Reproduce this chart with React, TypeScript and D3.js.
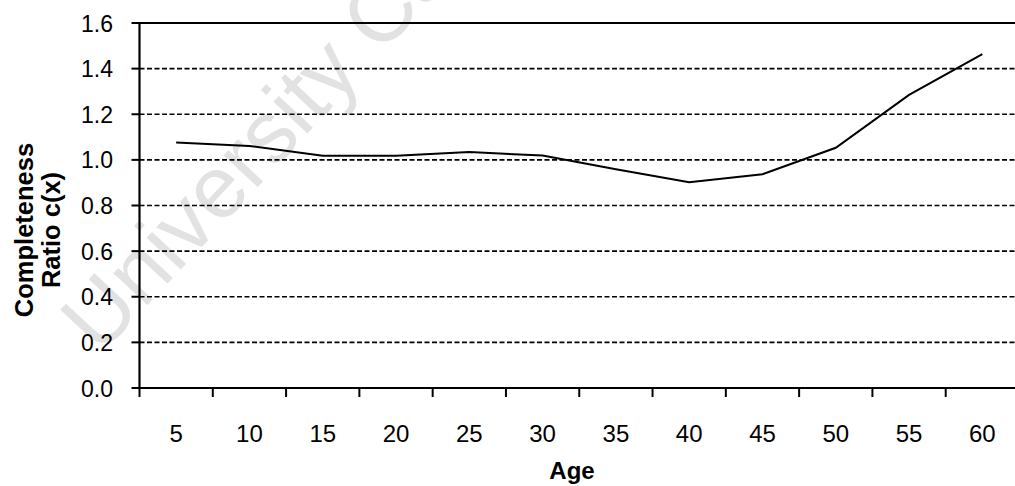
import React from "react";
import * as d3 from "d3";

const ages = ["5", "10", "15", "20", "25", "30", "35", "40", "45", "50", "55", "60"];
const ratios = [1.076, 1.061, 1.018, 1.018, 1.034, 1.019, 0.959, 0.902, 0.937, 1.053, 1.285, 1.464];
const yTicks = [0, 0.2, 0.4, 0.6, 0.8, 1.0, 1.2, 1.4, 1.6];
const yTitleLines = ["Completeness", "Ratio c(x)"];
const xTitle = "Age";
const watermarkParts = ["University", "Cape Town"];

const W = 1015;
const H = 486;
const FONT = "Arial, 'Liberation Sans', sans-serif";

export default function App() {
  const x = d3.scaleBand<string>().domain(ages).range([139.5, 1019]);
  const y = d3.scaleLinear().domain([0, 1.6]).range([388, 23]);
  const line = d3
    .line<number>()
    .x((_, i) => (x(ages[i]) as number) + x.bandwidth() / 2)
    .y((d) => y(d));
  const x0 = 139.5;
  const tickEdges = ages.map((a) => x(a) as number);

  return (
    <svg
      width={W}
      height={H}
      style={{ position: "absolute", left: 0, top: 0, background: "#fff" }}
      fontFamily={FONT}
    >
      <rect x={0} y={0} width={W} height={H} fill="#fff" />
      <text
        x={100}
        y={356}
        fontSize={88}
        fill="#e2e2e2"
        transform="rotate(-47 100 356)"
      >
        {watermarkParts[0]} {watermarkParts[1]}
      </text>
      {yTicks.map((t) =>
        t === 0 ? null : (
          <line
            key={"g" + t}
            x1={x0}
            x2={W}
            y1={y(t)}
            y2={y(t)}
            stroke="#000"
            strokeWidth={t === 1.6 ? 2.2 : 1.7}
            strokeDasharray={t === 1.6 ? undefined : "5,2.5"}
          />
        )
      )}
      {/* y axis */}
      <line x1={x0} x2={x0} y1={y(1.6) - 1} y2={y(0) + 1} stroke="#000" strokeWidth={2.2} />
      {yTicks.map((t) => (
        <g key={"yt" + t}>
          <line x1={x0 - 8} x2={x0} y1={y(t)} y2={y(t)} stroke="#000" strokeWidth={2} />
          <text x={113} y={y(t) + 8.5} fontSize={23} textAnchor="end" fill="#000">
            {t.toFixed(1)}
          </text>
        </g>
      ))}
      {/* x axis */}
      <line x1={x0} x2={W} y1={y(0)} y2={y(0)} stroke="#000" strokeWidth={2.2} />
      {tickEdges.map((tx, i) => (
        <line key={"xt" + i} x1={tx} x2={tx} y1={y(0)} y2={y(0) + 9} stroke="#000" strokeWidth={2} />
      ))}
      {ages.map((a) => (
        <text
          key={"xl" + a}
          x={(x(a) as number) + x.bandwidth() / 2}
          y={442}
          fontSize={24}
          textAnchor="middle"
          fill="#000"
        >
          {a}
        </text>
      ))}
      <path d={line(ratios) as string} fill="none" stroke="#000" strokeWidth={2} />
      <text x={572} y={479} fontSize={24} fontWeight="bold" textAnchor="middle" fill="#000">
        {xTitle}
      </text>
      <text
        transform="translate(0,230) rotate(-90)"
        fontSize={25.5}
        fontWeight="bold"
        textAnchor="middle"
        fill="#000"
      >
        <tspan x={0} y={33}>{yTitleLines[0]}</tspan>
        <tspan x={0} y={60}>{yTitleLines[1]}</tspan>
      </text>
    </svg>
  );
}
